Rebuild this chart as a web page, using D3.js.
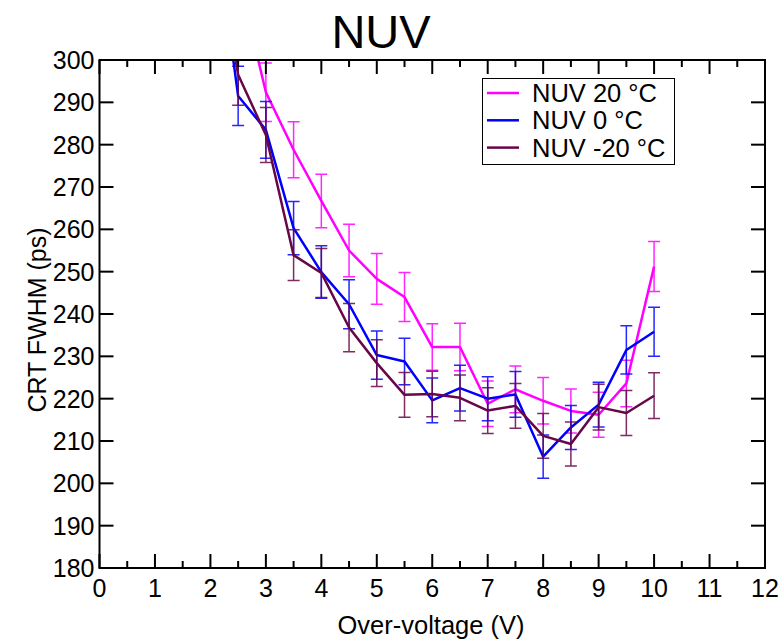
<!DOCTYPE html>
<html>
<head>
<meta charset="utf-8">
<script src="https://cdn.jsdelivr.net/npm/d3@7"></script>
<style>
  body { margin: 0; background: #fff; }
  svg { font-family: "Liberation Sans", Arial, sans-serif; }
  .frame { fill: none; stroke: #000; stroke-width: 2; }
  .tick-line { stroke: #000; stroke-width: 2; }
  .err { fill: none; stroke-width: 1.5; stroke-opacity: 0.85; }
  .series { fill: none; stroke-width: 2.5; stroke-linejoin: round; }
</style>
</head>
<body>
<svg id="chart"></svg>
<script>
"use strict";

// over-voltage (V)
const voltages = [2, 2.5, 3, 3.5, 4, 4.5, 5, 5.5, 6, 6.5, 7, 7.5, 8, 8.5, 9, 9.5, 10];

// CRT FWHM (ps) and errors
const nuv20 =    [null, 320, 292.4, 278.8, 266.7, 255.0, 248.3, 244.0, 232.2, 232.2, 218.8, 222.2, 219.5, 217.1, 216.2, 223.6, 251.2];
const nuv20Err = [null, 7.0, 6.9, 6.6, 6.3, 6.2, 6.0, 5.8, 5.5, 5.6, 5.4, 5.5, 5.5, 5.2, 5.3, 5.5, 5.9];
const nuv0 =     [340, 291.5, 283.5, 260.3, 249.9, 242.3, 230.3, 228.8, 219.6, 222.5, 220.0, 221.0, 206.3, 213.2, 218.6, 231.5, 235.8];
const nuv0Err =  [7.5, 7.0, 6.7, 6.3, 6.2, 5.8, 5.7, 5.5, 5.3, 5.4, 5.2, 5.4, 5.1, 5.2, 5.3, 5.7, 5.8];
const nuvM20 =   [335, 296.5, 282.3, 253.9, 249.7, 236.8, 228.4, 220.9, 221.1, 220.2, 217.2, 218.3, 211.2, 209.3, 218.0, 216.6, 220.7];
const nuvM20Err= [7.5, 7.2, 6.5, 6.0, 5.8, 5.7, 5.5, 5.3, 5.4, 5.4, 5.4, 5.3, 5.3, 5.2, 5.4, 5.3, 5.4];

const seriesNames = ["NUV 20 °C", "NUV 0 °C", "NUV -20 °C"];
const seriesColors = ["#ff00ff", "#0000ff", "#670748"];

const xTicks = d3.range(0, 13, 1);
const xMinorTicks = d3.range(0.5, 12, 1);
const yTicks = d3.range(180, 301, 10);

const W = 784, H = 640;
const pLeft = 99.5, pRight = 765, pTop = 60, pBottom = 568;

const chart = d3.select('#chart').attr('width', W).attr('height', H);

const x = d3.scaleLinear().domain([0, 12]).range([pLeft, pRight]);
const y = d3.scaleLinear().domain([180, 300]).range([pBottom, pTop]);

chart.append('defs').append('clipPath').attr('id', 'plotclip')
  .append('rect')
  .attr('x', pLeft).attr('y', pTop)
  .attr('width', pRight - pLeft).attr('height', pBottom - pTop);

// title
chart.append('text')
  .attr('x', 381).attr('y', 48)
  .attr('text-anchor', 'middle')
  .attr('font-size', 47)
  .text('NUV');

// series
const series = [
  { name: seriesNames[0], color: seriesColors[0], vals: nuv20, errs: nuv20Err },
  { name: seriesNames[1], color: seriesColors[1], vals: nuv0, errs: nuv0Err },
  { name: seriesNames[2], color: seriesColors[2], vals: nuvM20, errs: nuvM20Err }
];

const plot = chart.append('g').attr('clip-path', 'url(#plotclip)');

const line = d3.line()
  .x(d => x(d.x))
  .y(d => y(d.v));

const capW = 6;

series.forEach(s => {
  const pts = voltages.map((v, i) => ({ x: v, v: s.vals[i], e: s.errs[i] }))
    .filter(d => d.v != null);

  const eb = plot.append('g').attr('class', 'err').attr('stroke', s.color);
  eb.selectAll('path').data(pts).enter()
    .append('path')
    .attr('d', d => {
      const cx = x(d.x), y1 = y(d.v + d.e), y2 = y(d.v - d.e);
      return `M${cx - capW},${y1}H${cx + capW}M${cx},${y1}V${y2}M${cx - capW},${y2}H${cx + capW}`;
    });

  plot.append('path')
    .attr('class', 'series')
    .attr('stroke', s.color)
    .attr('d', line(pts));
});

// frame and ticks
chart.append('rect').attr('class', 'frame')
  .attr('x', pLeft).attr('y', pTop)
  .attr('width', pRight - pLeft).attr('height', pBottom - pTop);

const ticks = chart.append('g').attr('class', 'tick-line');
const major = 14, minor = 7;

xTicks.forEach(t => {
  ticks.append('line').attr('x1', x(t)).attr('x2', x(t)).attr('y1', pBottom).attr('y2', pBottom - major);
  ticks.append('line').attr('x1', x(t)).attr('x2', x(t)).attr('y1', pTop).attr('y2', pTop + major);
});
xMinorTicks.forEach(t => {
  ticks.append('line').attr('x1', x(t)).attr('x2', x(t)).attr('y1', pBottom).attr('y2', pBottom - minor);
  ticks.append('line').attr('x1', x(t)).attr('x2', x(t)).attr('y1', pTop).attr('y2', pTop + minor);
});
yTicks.forEach(t => {
  ticks.append('line').attr('x1', pLeft).attr('x2', pLeft + major).attr('y1', y(t)).attr('y2', y(t));
  ticks.append('line').attr('x1', pRight).attr('x2', pRight - major).attr('y1', y(t)).attr('y2', y(t));
});

chart.append('g').selectAll('text').data(xTicks).enter()
  .append('text')
  .attr('x', d => x(d)).attr('y', 597)
  .attr('text-anchor', 'middle')
  .attr('font-size', 25)
  .text(d => d);

chart.append('g').selectAll('text').data(yTicks).enter()
  .append('text')
  .attr('x', pLeft - 5).attr('y', d => y(d) + 9)
  .attr('text-anchor', 'end')
  .attr('font-size', 25)
  .text(d => d);

// axis titles
chart.append('text')
  .attr('x', 431).attr('y', 634)
  .attr('text-anchor', 'middle')
  .attr('font-size', 25.5)
  .text('Over-voltage (V)');

chart.append('text')
  .attr('transform', 'translate(46,320) rotate(-90)')
  .attr('text-anchor', 'middle')
  .attr('font-size', 25)
  .text('CRT FWHM (ps)');

// legend
const legend = chart.append('g');
legend.append('rect')
  .attr('x', 482.5).attr('y', 78.5).attr('width', 192).attr('height', 86)
  .attr('fill', '#fff').attr('stroke', '#000').attr('stroke-width', 1);

series.forEach((s, i) => {
  const ly = 93 + i * 27.3;
  legend.append('line')
    .attr('x1', 487).attr('x2', 519).attr('y1', ly).attr('y2', ly)
    .attr('stroke', s.color).attr('stroke-width', 2.5);
  legend.append('text')
    .attr('x', 532).attr('y', ly + 9)
    .attr('font-size', 25.5)
    .text(s.name);
});
</script>
</body>
</html>
